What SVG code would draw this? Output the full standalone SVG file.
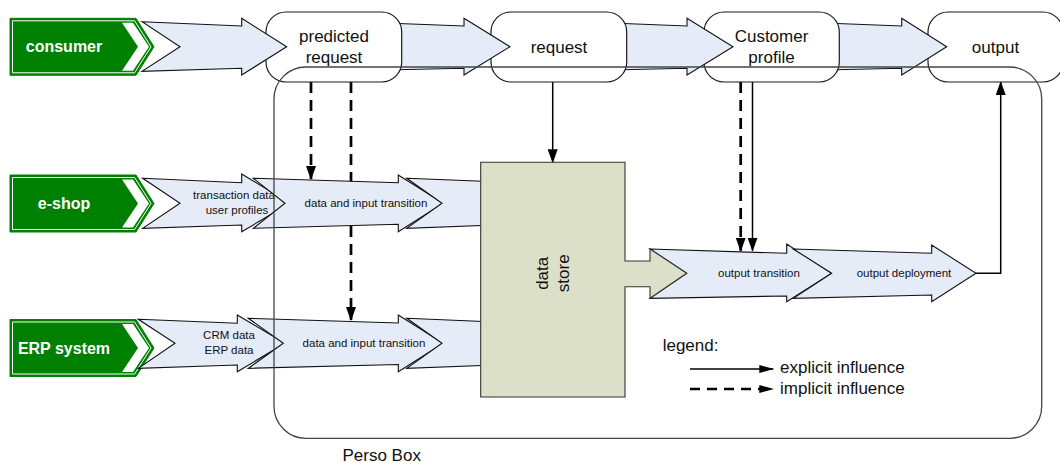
<svg xmlns="http://www.w3.org/2000/svg" xmlns:xlink="http://www.w3.org/1999/xlink" width="1060" height="463" viewBox="0 0 1060 463">
<style>
text{font-family:"Liberation Sans",Arial,sans-serif;fill:#111}
.t17{font-size:17px}
.t11{font-size:11.5px}
.sign{font-size:16px;font-weight:bold;fill:#fff}
.box{fill:#fff;stroke:#1a1a1a;stroke-width:1.2}
.arr{fill:#E5ECF7;stroke:#111;stroke-width:1.1;stroke-linejoin:miter}
.solid{fill:none;stroke:#000;stroke-width:1.5}
.dash{fill:none;stroke:#000;stroke-width:2.7;stroke-dasharray:11 7}
</style>
<defs>
<marker id="ah" viewBox="0 0 14 10" refX="13" refY="5" markerWidth="14" markerHeight="10" markerUnits="userSpaceOnUse" orient="auto">
<path d="M0,0 L14,5 L0,10 Z" fill="#000"/>
</marker>
<marker id="ahs" viewBox="0 0 15 8" refX="14" refY="4" markerWidth="15" markerHeight="8" markerUnits="userSpaceOnUse" orient="auto">
<path d="M0,0 L15,4 L0,8 Z" fill="#000"/>
</marker>
<g id="signshape">
<path d="M10,0 H136 L154,28.5 L136,57 H10 Z" fill="#008000" stroke="#008000" stroke-width="1"/>
<path d="M12.5,2.5 H134.6 L151,28.5 L134.6,54.5 H12.5 Z" fill="none" stroke="#fff" stroke-width="1"/>
<path d="M122,4.5 H133 L149,28.5 L133,52.5 H122 L138,28.5 Z" fill="#fff"/>
</g>
</defs>

<g id="connectors">
<line class="solid" x1="552.7" y1="82" x2="552.7" y2="162.3" marker-end="url(#ah)"/>
<line class="dash" x1="311" y1="82" x2="311" y2="179" marker-end="url(#ah)"/>
<line class="dash" x1="351" y1="82" x2="351" y2="320" marker-end="url(#ah)"/>
<line class="dash" x1="740.7" y1="82" x2="740.7" y2="250.7" marker-end="url(#ah)"/>
<line class="solid" x1="752.5" y1="82" x2="752.5" y2="250.7" marker-end="url(#ah)"/>
<polyline class="solid" points="976,273.3 1000.7,273.3 1000.7,82" marker-end="url(#ah)"/>
</g>

<g id="node-output">
<rect class="box" x="928" y="12" width="135" height="70" rx="20"/>
<text class="t17" x="995.5" y="52.5" text-anchor="middle">output</text>
</g>
<g id="arrow-profile-output">
<path class="arr" d="M824,23 L901.7,26 L901.7,18.3 L946.7,46.7 L901.7,75 L901.7,68.3 L824,70 Z"/>
</g>
<g id="node-profile">
<rect class="box" x="704" y="12" width="135.3" height="70" rx="20"/>
<text class="t17" x="771.5" y="42" text-anchor="middle">Customer</text>
<text class="t17" x="771.5" y="63" text-anchor="middle">profile</text>
</g>
<g id="arrow-request-profile">
<path class="arr" d="M611,23 L687,26 L687,18.3 L733,46.7 L687,75 L687,68.3 L611,70 Z"/>
</g>
<g id="node-request">
<rect class="box" x="491" y="12" width="135.7" height="70" rx="20"/>
<text class="t17" x="559" y="52.5" text-anchor="middle">request</text>
</g>
<g id="arrow-predicted-request">
<path class="arr" d="M385,23 L464,26 L464,18.3 L510,46.7 L464,75 L464,68.3 L385,70 Z"/>
</g>
<g id="node-predicted">
<rect class="box" x="266" y="12" width="135.7" height="70" rx="20"/>
<text class="t17" x="334" y="42" text-anchor="middle">predicted</text>
<text class="t17" x="334" y="63" text-anchor="middle">request</text>
</g>
<g id="arrow-consumer-predicted">
<path class="arr" d="M142,21.7 L241.7,26 L241.7,18.3 L286.7,46.7 L241.7,75 L241.7,68.3 L142,71.3 L180,46.7 Z"/>
</g>

<g id="node-consumer">
<use xlink:href="#signshape" transform="translate(0,18.3)"/>
<text class="sign" x="64" y="51.5" text-anchor="middle">consumer</text>
</g>
<g id="node-eshop">
<use xlink:href="#signshape" transform="translate(0,175)"/>
<text class="sign" x="64" y="208.5" text-anchor="middle">e-shop</text>
</g>
<g id="node-erp">
<use xlink:href="#signshape" transform="translate(0,319.5)"/>
<text class="sign" x="64" y="353.5" text-anchor="middle">ERP system</text>
</g>

<g id="arrow-eshop-data">
<path class="arr" d="M142.7,178.3 L241.7,182.7 L241.7,174 L290,203.3 L241.7,231.7 L241.7,225 L142.7,228.3 L180,203.3 Z"/>
<text class="t11" x="234" y="199" text-anchor="middle">transaction data</text>
<text class="t11" x="237" y="214" text-anchor="middle">user profiles</text>
</g>
<g id="arrow-eshop-transition">
<path class="arr" d="M253.3,178.3 L398.3,182.7 L398.3,175 L443.3,203.3 L398.3,231.7 L398.3,224.3 L253.3,228.3 L285,203.3 Z"/>
<text class="t11" x="366" y="207.3" text-anchor="middle">data and input transition</text>
</g>
<g id="arrow-eshop-store">
<path class="arr" d="M406.7,178.3 L495,181.7 L495,225 L406.7,228.3 L442,203.3 Z"/>
</g>
<g id="arrow-erp-data">
<path class="arr" d="M138.3,319.3 L237.3,323.3 L237.3,315 L285,343.3 L237.3,371.7 L237.3,365 L138.3,368.3 L175,343.3 Z"/>
<text class="t11" x="229" y="339" text-anchor="middle">CRM data</text>
<text class="t11" x="229" y="354" text-anchor="middle">ERP data</text>
</g>
<g id="arrow-erp-transition">
<path class="arr" d="M248.3,318.3 L398.3,323 L398.3,315 L443.3,343.3 L398.3,371.7 L398.3,364.5 L248.3,368.3 L283.3,343.3 Z"/>
<text class="t11" x="364" y="347.3" text-anchor="middle">data and input transition</text>
</g>
<g id="arrow-erp-store">
<path class="arr" d="M406.7,318.3 L495,322 L495,365 L406.7,368.3 L442,343.3 Z"/>
</g>

<g id="node-output-transition">
<path class="arr" d="M650,249 L786.7,253.3 L786.7,244 L831.7,273.3 L786.7,301.7 L786.7,296 L650,298.3 L686.7,273.3 Z"/>
<text class="t11" x="759" y="277.3" text-anchor="middle">output transition</text>
</g>
<g id="node-output-deployment">
<path class="arr" d="M793.3,249 L931.7,253.3 L931.7,245 L976,273.3 L931.7,301.7 L931.7,295 L793.3,298.3 L831.7,273.3 Z"/>
<text class="t11" x="904" y="277.3" text-anchor="middle">output deployment</text>
</g>

<g id="node-datastore">
<path d="M480.7,162.3 H625 V261 H650 V249 L686.7,273.3 L650,298.3 V286.7 H625 V397 H480.7 Z" fill="#DDE0C9" stroke="#333" stroke-width="1.1"/>
<g transform="translate(552.7,273.3) rotate(-90)">
<text class="t17" x="0" y="-5" text-anchor="middle">data</text>
<text class="t17" x="0" y="16" text-anchor="middle">store</text>
</g>
</g>

<g id="legend">
<text class="t17" x="662.7" y="351">legend:</text>
<line class="solid" x1="690" y1="369" x2="773.3" y2="369" marker-end="url(#ahs)"/>
<text class="t17" x="780" y="372.6">explicit influence</text>
<line x1="690" y1="389" x2="773.3" y2="389" stroke="#000" stroke-width="2.7" stroke-dasharray="10 7" marker-end="url(#ahs)"/>
<text class="t17" x="780" y="394">implicit influence</text>
</g>

<g id="node-persobox">
<rect x="274" y="67" width="767.7" height="371.3" rx="32" fill="none" stroke="#444" stroke-width="1.3"/>
<text class="t17" x="381.7" y="461" text-anchor="middle">Perso Box</text>
</g>
</svg>
